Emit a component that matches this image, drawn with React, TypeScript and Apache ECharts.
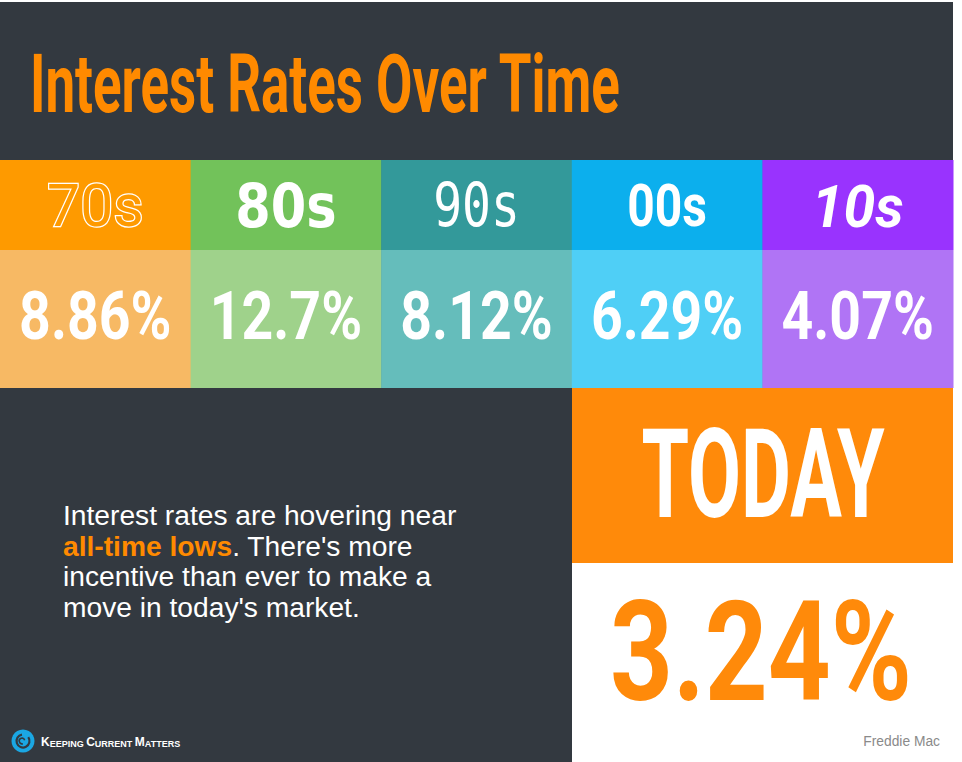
import React, { useEffect, useRef } from "react";
import * as echarts from "echarts";

const decades = ["70s", "80s", "90s", "00s", "10s"];
const rates = [8.86, 12.7, 8.12, 6.29, 4.07];
const rateLabels = ["8.86%", "12.7%", "8.12%", "6.29%", "4.07%"];
const headerColors = ["#fe9a00", "#72c25a", "#33999a", "#0cafed", "#9933fe"];
const valueColors = ["#f7b964", "#9fd28b", "#65bdbb", "#4fcff6", "#b074f5"];
const todayLabel = "TODAY";
const todayRate = "3.24%";
const titleText = "Interest Rates Over Time";
const sourceText = "Freddie Mac";
const bodyLines = [
  "Interest rates are hovering near",
  "{o|all-time lows}{w|. There's more}",
  "incentive than ever to make a",
  "move in today's market.",
];

const DARK = "#333940";
const ORANGE = "#ff8a0a";

export default function App() {
  const ref = useRef<HTMLDivElement>(null);
  useEffect(() => {
    if (!ref.current) return;
    const chart = echarts.init(ref.current, undefined, { renderer: "svg" });

    const headerStyles = [
      { fill: headerColors[0], stroke: "#ffffff", lineWidth: 2.5, fontFamily: "Roboto", fontWeight: "normal", fontStyle: "normal", scaleX: 0.98 },
      { fill: "#ffffff", stroke: "none", lineWidth: 0, fontFamily: "DejaVu Sans", fontWeight: "bold", fontStyle: "normal", scaleX: 0.85 },
      { fill: "#ffffff", stroke: "none", lineWidth: 0, fontFamily: "DejaVu Sans Mono", fontWeight: "normal", fontStyle: "normal", scaleX: 0.8 },
      { fill: "#ffffff", stroke: "none", lineWidth: 0, fontFamily: "Roboto", fontWeight: "bold", fontStyle: "normal", scaleX: 0.8 },
      { fill: "#ffffff", stroke: "none", lineWidth: 0, fontFamily: "Roboto", fontWeight: "bold", fontStyle: "italic", scaleX: 0.95 },
    ];

    const option: any = {
      animation: false,
      backgroundColor: "#ffffff",
      grid: { left: 0, top: 160, width: 953, height: 228, containLabel: false },
      xAxis: {
        type: "category",
        data: decades,
        show: false,
        boundaryGap: true,
      },
      yAxis: { type: "value", min: 0, max: 1, show: false },
      series: [
        {
          type: "custom",
          z: 5,
          data: rates.map((r, i) => [i, r]),
          renderItem: (params: any, api: any) => {
            const idx = api.value(0);
            const pt = api.coord([idx, 0]);
            const bw = api.size([1, 0])[0];
            const cs = params.coordSys;
            const x0 = pt[0] - bw / 2;
            const top = cs.y;
            const headerH = 90;
            const valueH = cs.height - headerH;
            const hs = headerStyles[idx];
            return {
              type: "group",
              children: [
                { type: "rect", shape: { x: x0, y: top, width: bw + 0.5, height: headerH }, style: { fill: headerColors[idx] } },
                { type: "rect", shape: { x: x0, y: top + headerH, width: bw + 0.5, height: valueH }, style: { fill: valueColors[idx] } },
                {
                  type: "text",
                  x: pt[0],
                  y: top + 46,
                  scaleX: hs.scaleX,
                  style: {
                    text: decades[idx],
                    x: 0,
                    y: 0,
                    align: "center",
                    verticalAlign: "middle",
                    fill: hs.fill,
                    stroke: hs.stroke,
                    lineWidth: hs.lineWidth,
                    fontSize: 60,
                    fontFamily: hs.fontFamily,
                    fontWeight: hs.fontWeight,
                    fontStyle: hs.fontStyle,
                  },
                },
                {
                  type: "text",
                  x: pt[0],
                  y: top + headerH + 66,
                  scaleX: 0.84,
                  style: {
                    text: rateLabels[idx],
                    x: 0,
                    y: 0,
                    align: "center",
                    verticalAlign: "middle",
                    fill: "#ffffff",
                    fontSize: 66,
                    fontFamily: "Roboto",
                    fontWeight: "bold",
                  },
                },
              ],
            };
          },
        },
      ],
      graphic: [
        { type: "rect", z: 0, shape: { x: 0, y: 2, width: 953, height: 760 }, style: { fill: DARK } },
        {
          type: "text",
          z: 10,
          x: 30,
          y: 84,
          scaleX: 0.645,
          style: {
            text: titleText,
            x: 0,
            y: 0,
            align: "left",
            verticalAlign: "middle",
            fill: "#ff8a00",
            fontSize: 82,
            fontFamily: "Roboto",
            fontWeight: "bold",
          },
        },
        { type: "rect", z: 10, shape: { x: 572, y: 388, width: 381, height: 175 }, style: { fill: ORANGE } },
        { type: "rect", z: 10, shape: { x: 572, y: 563, width: 390, height: 199 }, style: { fill: "#ffffff" } },
        {
          type: "text",
          z: 11,
          x: 763,
          y: 474,
          scaleX: 0.62,
          style: {
            text: todayLabel,
            x: 0,
            y: 0,
            align: "center",
            verticalAlign: "middle",
            fill: "#ffffff",
            fontSize: 124,
            fontFamily: "Roboto",
            fontWeight: "bold",
          },
        },
        {
          type: "text",
          z: 11,
          x: 761,
          y: 653,
          scaleX: 0.79,
          style: {
            text: todayRate,
            x: 0,
            y: 0,
            align: "center",
            verticalAlign: "middle",
            fill: ORANGE,
            fontSize: 139,
            fontFamily: "Roboto",
            fontWeight: "bold",
          },
        },
        {
          type: "text",
          z: 11,
          x: 940,
          y: 741,
          style: {
            text: sourceText,
            x: 0,
            y: 0,
            align: "right",
            verticalAlign: "middle",
            fill: "#8a8a8a",
            fontSize: 13.8,
            fontFamily: "Liberation Sans",
          },
        },
        ...bodyLines.map((line, i) => ({
          type: "text",
          z: 11,
          x: 63,
          y: 515 + i * 30.5,
          style: {
            text: line,
            x: 0,
            y: 0,
            align: "left",
            verticalAlign: "middle",
            fill: "#ffffff",
            fontSize: 28.2,
            fontFamily: "Liberation Sans",
            rich: {
              o: { fill: "#ff8a00", fontSize: 28.2, fontWeight: "bold", fontFamily: "Liberation Sans" },
              w: { fill: "#ffffff", fontSize: 28.2, fontFamily: "Liberation Sans" },
            },
          },
        })),
        { type: "circle", z: 11, shape: { cx: 23, cy: 741, r: 11.5 }, style: { fill: "#1ba7e3" } },
        { type: "arc", z: 12, shape: { cx: 23, cy: 741, r: 6.5, startAngle: -Math.PI * 0.2, endAngle: Math.PI * 1.45 }, style: { stroke: DARK, lineWidth: 2.2, fill: "none" } },
        { type: "arc", z: 12, shape: { cx: 22, cy: 741, r: 2.8, startAngle: Math.PI * 0.4, endAngle: Math.PI * 1.9 }, style: { stroke: DARK, lineWidth: 1.6, fill: "none" } },
        {
          type: "text",
          z: 11,
          x: 41,
          y: 742,
          style: {
            text: "{b|K}{s|EEPING }{b|C}{s|URRENT }{b|M}{s|ATTERS}",
            x: 0,
            y: 0,
            align: "left",
            verticalAlign: "middle",
            fill: "#ffffff",
            rich: {
              b: { fontSize: 12, fontWeight: "bold", fill: "#ffffff", fontFamily: "Liberation Sans", verticalAlign: "bottom" },
              s: { fontSize: 9, fontWeight: "bold", fill: "#ffffff", fontFamily: "Liberation Sans", verticalAlign: "bottom" },
            },
          },
        },
      ],
    };
    chart.setOption(option);
    return () => chart.dispose();
  }, []);
  return (
    <div
      ref={ref}
      style={{ position: "fixed", left: 0, top: 0, width: 962, height: 762 }}
    />
  );
}
